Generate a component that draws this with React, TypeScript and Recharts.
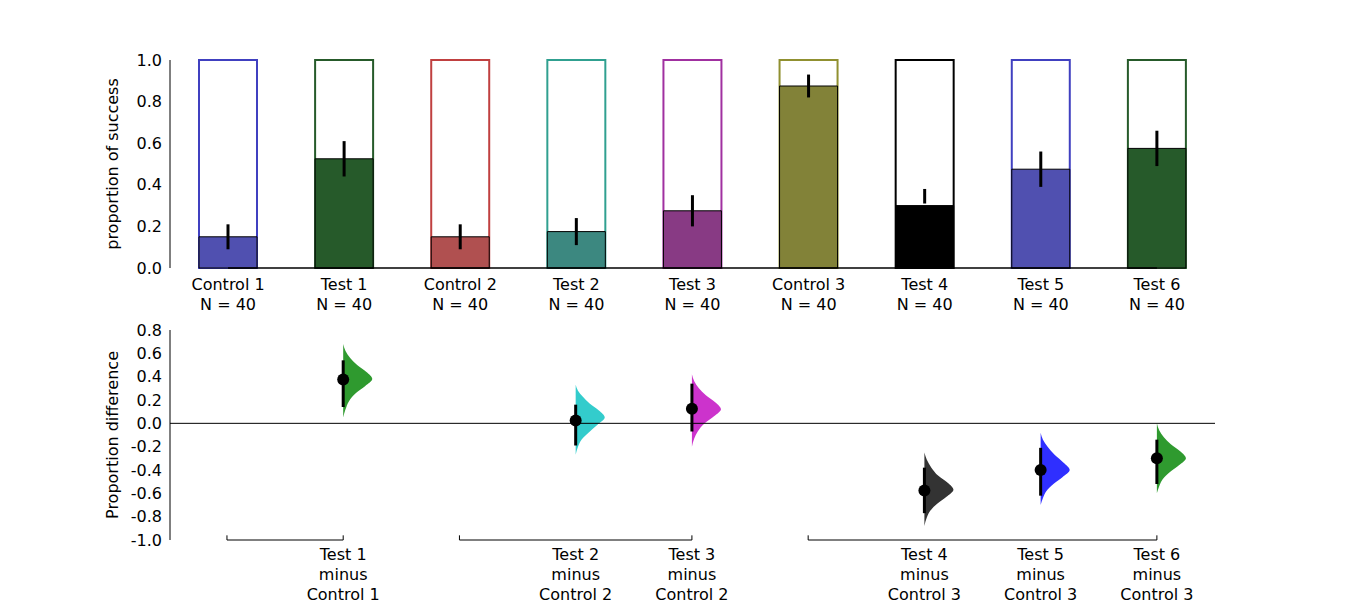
import React from 'react';
import {
  ComposedChart, BarChart, Bar, Cell, ErrorBar, XAxis, YAxis, Area, Scatter,
  ReferenceLine, Label,
} from 'recharts';

const groups = ['Control 1', 'Test 1', 'Control 2', 'Test 2', 'Test 3', 'Control 3', 'Test 4', 'Test 5', 'Test 6'];
const sizes = [40, 40, 40, 40, 40, 40, 40, 40, 40];
const proportions = [0.15, 0.525, 0.15, 0.175, 0.275, 0.875, 0.3, 0.475, 0.575];
const ciLow = [0.09, 0.44, 0.09, 0.11, 0.2, 0.82, 0.31, 0.39, 0.49];
const ciHigh = [0.21, 0.61, 0.21, 0.24, 0.35, 0.93, 0.38, 0.56, 0.66];
const fills = ['#5050b0', '#265a2a', '#b05050', '#3c8880', '#883a84', '#828238', '#000000', '#5050b0', '#265a2a'];
const edges = ['#4040c0', '#265a2a', '#c04040', '#30a090', '#a030a0', '#909030', '#000000', '#4040c0', '#265a2a'];

const diffLabels = ['Test 1', 'Test 2', 'Test 3', 'Test 4', 'Test 5', 'Test 6'];
const diffControls = ['Control 1', 'Control 2', 'Control 2', 'Control 3', 'Control 3', 'Control 3'];
const diffPos = [1, 3, 4, 6, 7, 8];
const diffMean = [0.375, 0.025, 0.125, -0.575, -0.4, -0.3];
const diffLow = [0.14, -0.19, -0.07, -0.77, -0.62, -0.52];
const diffHigh = [0.54, 0.16, 0.34, -0.38, -0.21, -0.14];
const violinColors = ['#2f9a2f', '#33cccc', '#cc33cc', '#333333', '#2f2fff', '#2f9a2f'];
const violinY = [
  [0.05, 0.12, 0.19, 0.26, 0.32, 0.38, 0.44, 0.5, 0.56, 0.62, 0.68],
  [-0.27, -0.2, -0.14, -0.08, -0.01, 0.05, 0.11, 0.17, 0.23, 0.28, 0.33],
  [-0.2, -0.13, -0.07, 0.0, 0.06, 0.12, 0.18, 0.24, 0.3, 0.36, 0.42],
  [-0.88, -0.81, -0.75, -0.69, -0.63, -0.57, -0.51, -0.45, -0.38, -0.31, -0.25],
  [-0.7, -0.64, -0.58, -0.52, -0.46, -0.4, -0.34, -0.27, -0.2, -0.14, -0.08],
  [-0.6, -0.54, -0.48, -0.42, -0.36, -0.3, -0.24, -0.18, -0.12, -0.06, 0.0],
];
const violinW = [0, 0.02, 0.05, 0.11, 0.19, 0.25, 0.2, 0.12, 0.06, 0.02, 0];
const brackets = [[0, 1], [2, 4], [5, 8]];

const barData = groups.map((g, i) => ({
  name: g, full: 1, value: proportions[i],
  err: [proportions[i] - ciLow[i], ciHigh[i] - proportions[i]],
}));
const pointData = diffPos.map((p, i) => ({
  x: p, y: diffMean[i], err: [diffMean[i] - diffLow[i], diffHigh[i] - diffMean[i]],
}));

const font = { fontFamily: 'DejaVu Sans', fontSize: 16, fill: '#000' };

const TopTick = (props: any) => {
  const { x, y, payload, index } = props;
  return (
    <text x={x} y={y + 14} textAnchor="middle" style={font}>
      <tspan x={x} dy={0}>{payload.value}</tspan>
      <tspan x={x} dy={20}>N = {sizes[index]}</tspan>
    </text>
  );
};

const BottomTick = (props: any) => {
  const { x, y, payload } = props;
  const i = diffPos.indexOf(payload.value);
  if (i < 0) return null;
  return (
    <text x={x} y={y + 12} textAnchor="middle" style={font}>
      <tspan x={x} dy={0}>{diffLabels[i]}</tspan>
      <tspan x={x} dy={20}>minus</tspan>
      <tspan x={x} dy={20}>{diffControls[i]}</tspan>
    </text>
  );
};

export default function App() {
  return (
    <div style={{ position: 'absolute', left: 0, top: 0, width: 1350, height: 600, background: '#fff', overflow: 'hidden' }}>
      <div style={{ position: 'absolute', left: 0, top: 0 }}>
        <BarChart width={1350} height={320} data={barData} barSize={58} barGap={-58}
          margin={{ top: 60, left: 110, right: 135, bottom: 22 }}>
          <XAxis dataKey="name" axisLine={false} tickLine={false} tick={<TopTick />} interval={0} />
          <YAxis domain={[0, 1]} ticks={[0, 0.2, 0.4, 0.6, 0.8, 1]} width={60} tickLine={false} interval={0}
            tickFormatter={(v: number) => v.toFixed(1)} tick={font} stroke="#000">
            <Label value="proportion of success" angle={-90} position="insideLeft" offset={2}
              style={{ ...font, textAnchor: 'middle' }} />
          </YAxis>
          <ReferenceLine segment={[{ x: groups[0], y: 0 }, { x: groups[8], y: 0 }]} stroke="#000" strokeWidth={1.5} />
          <Bar dataKey="full" isAnimationActive={false}>
            {barData.map((d, i) => <Cell key={i} fill="#fff" stroke={edges[i]} strokeWidth={2} />)}
          </Bar>
          <Bar dataKey="value" isAnimationActive={false}>
            {barData.map((d, i) => <Cell key={i} fill={fills[i]} stroke="#000" strokeWidth={1} />)}
            <ErrorBar dataKey="err" width={0} stroke="#000" strokeWidth={3} />
          </Bar>
        </BarChart>
      </div>
      <div style={{ position: 'absolute', left: 0, top: 0 }}>
        <ComposedChart width={1350} height={600} layout="vertical"
          margin={{ top: 330, left: 110, right: 135, bottom: 30 }}>
          <XAxis type="number" dataKey="x" domain={[-0.49, 8.5]} ticks={diffPos} interval={0}
            axisLine={false} tickLine={false} tick={<BottomTick />} allowDataOverflow />
          <YAxis type="number" dataKey="y" domain={[-1, 0.8]} width={60} tickLine={false} interval={0} reversed
            ticks={[-1, -0.8, -0.6, -0.4, -0.2, 0, 0.2, 0.4, 0.6, 0.8]}
            tickFormatter={(v: number) => v.toFixed(1)} tick={font} stroke="#000">
            <Label value="Proportion difference" angle={-90} position="insideLeft" offset={2}
              style={{ ...font, textAnchor: 'middle' }} />
          </YAxis>
          <ReferenceLine y={0} stroke="#000" strokeWidth={1} />
          {brackets.map(([a, b], k) => (
            <ReferenceLine key={'b' + k} segment={[{ x: a, y: -1 }, { x: b, y: -1 }]} stroke="#000" strokeWidth={1} />
          ))}
          {brackets.flat().map((p, k) => (
            <ReferenceLine key={'t' + k} segment={[{ x: p, y: -1 }, { x: p, y: -0.96 }]} stroke="#000" strokeWidth={1} />
          ))}
          {violinY.map((ys, i) => (
            <Area key={'v' + i} type="monotone" dataKey="x" baseValue={diffPos[i]}
              data={ys.map((y, j) => ({ y, x: diffPos[i] + violinW[j] }))}
              fill={violinColors[i]} fillOpacity={1} stroke="none" isAnimationActive={false} />
          ))}
          <Scatter data={pointData} dataKey="y" fill="#000" isAnimationActive={false}
            shape={(p: any) => <circle cx={p.cx} cy={p.cy} r={6} fill="#000" />}>
            <ErrorBar dataKey="err" direction="y" width={0} stroke="#000" strokeWidth={3} />
          </Scatter>
        </ComposedChart>
      </div>
    </div>
  );
}
